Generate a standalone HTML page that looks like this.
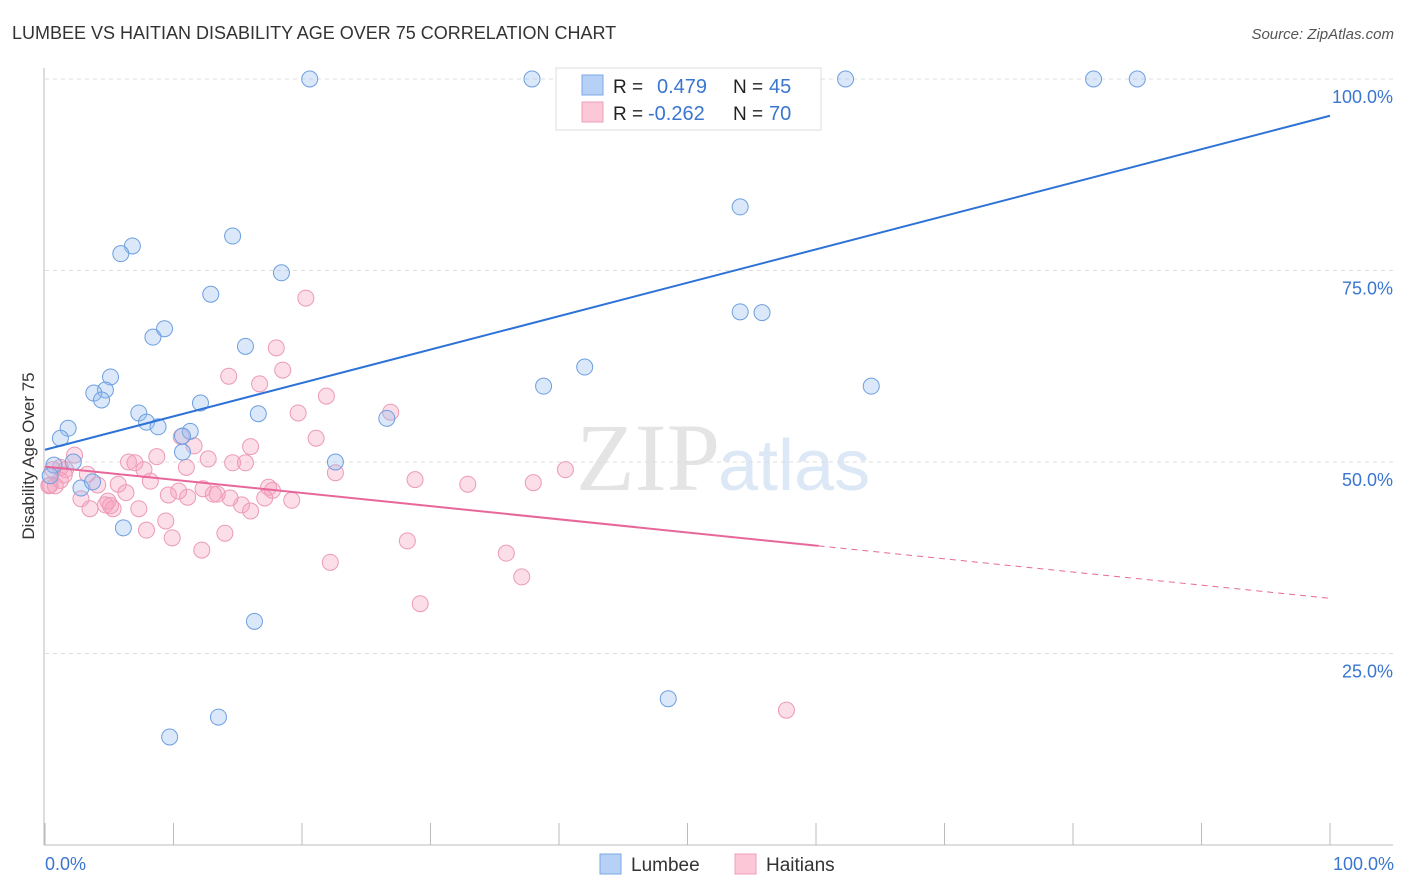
<!DOCTYPE html>
<html><head><meta charset="utf-8"><style>
body{margin:0;background:#fff;font-family:"Liberation Sans",sans-serif;}
svg{display:block}
</style></head><body>
<svg id="chart" width="1406" height="892">
<text x="12" y="39" font-size="18" fill="#333">LUMBEE VS HAITIAN DISABILITY AGE OVER 75 CORRELATION CHART</text>
<text x="1394" y="39" font-size="15" font-style="italic" fill="#555" text-anchor="end">Source: ZipAtlas.com</text>
<text x="720" y="490" font-size="96" font-family="Liberation Serif,serif" fill="#e4e4e4" text-anchor="end">ZIP</text>
<text x="718" y="490" font-size="72" fill="#dce8f6">atlas</text>
<g id="grid"></g>
<g id="axes"></g>
<g id="marks"></g>
<text transform="translate(34,456) rotate(-90)" font-size="17" fill="#333" text-anchor="middle">Disability Age Over 75</text>
<text x="45" y="870" font-size="18" fill="#3a76d0">0.0%</text>
<text x="1394" y="870" font-size="18" fill="#3a76d0" text-anchor="end">100.0%</text>
<g>
<rect x="556" y="68" width="265" height="62" fill="#fff" stroke="#ddd"/>
<rect x="582" y="75" width="21" height="20" fill="#b6d1f5" stroke="#7aa7e6"/>
<rect x="582" y="102" width="21" height="20" fill="#fcc8d8" stroke="#ee9fba"/>
<text x="613" y="93" font-size="19" fill="#222">R = </text><text x="657" y="93" font-size="20" fill="#3a76d0">0.479</text>
<text x="733" y="93" font-size="19" fill="#222">N = </text><text x="769" y="93" font-size="20" fill="#3a76d0">45</text>
<text x="613" y="120" font-size="19" fill="#222">R = </text><text x="648" y="120" font-size="20" fill="#3a76d0">-0.262</text>
<text x="733" y="120" font-size="19" fill="#222">N = </text><text x="769" y="120" font-size="20" fill="#3a76d0">70</text>
</g>
<g>
<rect x="600" y="854" width="21" height="20" fill="#b6d1f5" stroke="#7aa7e6"/>
<text x="631" y="871" font-size="19" fill="#333">Lumbee</text>
<rect x="735" y="854" width="21" height="20" fill="#fcc8d8" stroke="#ee9fba"/>
<text x="766" y="871" font-size="19" fill="#333">Haitians</text>
</g>
</svg>
<script>
const yTicks=[25,50,75,100];
const yTickLabels=["25.0%","50.0%","75.0%","100.0%"];
const xTicks=[0,10,20,30,40,50,60,70,80,90,100];
const lumbeeX=[20.6,37.9,62.3,81.6,85.0,54.1,14.6,6.8,5.9,18.4,12.9,54.1,55.8,9.3,8.4,15.6,42.0,5.1,38.8,64.3,4.7,3.8,4.4,12.1,7.3,16.6,26.6,7.9,8.8,1.8,11.3,10.7,1.2,10.7,22.6,0.7,2.2,2.8,3.7,6.1,16.3,48.5,13.5,9.7,0.4];
const lumbeeY=[100,100,100,100,100,83.3,79.5,78.2,77.2,74.7,71.9,69.6,69.5,67.4,66.3,65.1,62.4,61.1,59.9,59.9,59.4,59.0,58.1,57.7,56.4,56.3,55.7,55.2,54.6,54.4,54.0,53.4,53.1,51.3,50.0,49.6,50.0,46.6,47.4,41.4,29.2,19.1,16.7,14.1,48.2];
const haitiX=[20.3,18.0,18.5,14.3,16.7,21.9,26.9,19.7,21.1,10.6,11.6,2.3,6.5,8.7,14.6,15.6,12.7,7.0,11.0,1.2,1.6,0.6,3.3,7.7,40.5,22.6,28.8,32.9,38.0,8.2,4.1,5.7,0.3,0.8,17.4,17.7,10.4,6.3,9.6,12.3,13.4,13.1,11.1,17.1,19.2,2.8,4.9,4.7,15.3,3.5,5.3,7.3,16.0,9.4,7.9,14.0,28.2,9.9,12.2,35.9,22.2,37.1,29.2,57.7,5.1,14.4,1.2,0.4,1.5,16.0];
const haitiY=[71.4,64.9,62.0,61.2,60.2,58.6,56.5,56.4,53.1,53.3,52.1,50.9,50.0,50.7,49.9,49.9,50.4,49.9,49.3,49.3,49.0,49.0,48.4,49.0,49.0,48.6,47.7,47.1,47.3,47.5,47.0,47.1,46.9,46.9,46.7,46.3,46.2,46.0,45.7,46.5,45.8,45.8,45.4,45.3,45.0,45.2,44.9,44.4,44.4,43.9,43.9,43.9,43.6,42.3,41.1,40.7,39.7,40.1,38.5,38.1,36.9,35.0,31.5,17.6,44.3,45.3,47.6,47.0,48.3,52.0];
const lumbeeTrend=[51.6,95.2];
const haitiTrend=[49.4,32.2];
const haitiSolidEnd=60.2;
const X=v=>45+v*12.85, Y=v=>845-v*7.66;
const NS="http://www.w3.org/2000/svg";
function mk(parent,tag,attrs){const e=document.createElementNS(NS,tag);for(const k in attrs)e.setAttribute(k,attrs[k]);document.getElementById(parent).appendChild(e);return e;}
yTicks.forEach((t,i)=>{
 const g=mk('grid','line',{x1:45,x2:1393,y1:Y(t),y2:Y(t),stroke:'#ddd','stroke-dasharray':'4,4'});
 
 
 const l=mk('grid','text',{x:1393,y:Y(t)+24,'font-size':18,fill:'#3a76d0','text-anchor':'end'});
 l.textContent=yTickLabels[i];
 
 
});
const ax=mk('axes','line',{x1:44,x2:44,y1:68,y2:845,stroke:'#bbb'});


const bx=mk('axes','line',{x1:44,x2:1393,y1:845,y2:845,stroke:'#bbb'});


xTicks.forEach(t=>{const k=mk('axes','line',{x1:X(t),x2:X(t),y1:823,y2:845,stroke:'#bbb'});
 
 });
haitiX.forEach((x,i)=>{const c=mk('marks','circle',{cx:X(x),cy:Y(haitiY[i]),r:8,fill:'rgba(245,160,190,0.35)',stroke:'#ec9ab5','stroke-width':1});
 
 });
lumbeeX.forEach((x,i)=>{const c=mk('marks','circle',{cx:X(x),cy:Y(lumbeeY[i]),r:8,fill:'rgba(150,190,240,0.35)',stroke:'#6d9fe0','stroke-width':1});
 
 });
const hAt=x=>haitiTrend[0]+(haitiTrend[1]-haitiTrend[0])*x/100;
const t1=mk('marks','line',{x1:X(0),y1:Y(lumbeeTrend[0]),x2:X(100),y2:Y(lumbeeTrend[1]),stroke:'#2d72d6','stroke-width':2});


const t2=mk('marks','line',{x1:X(0),y1:Y(hAt(0)),x2:X(haitiSolidEnd),y2:Y(hAt(haitiSolidEnd)),stroke:'#e8679a','stroke-width':2});


const t3=mk('marks','line',{x1:X(haitiSolidEnd),y1:Y(hAt(haitiSolidEnd)),x2:X(100),y2:Y(hAt(100)),stroke:'#e8679a','stroke-width':1,'stroke-dasharray':'6,5'});


</script>
</body></html>
